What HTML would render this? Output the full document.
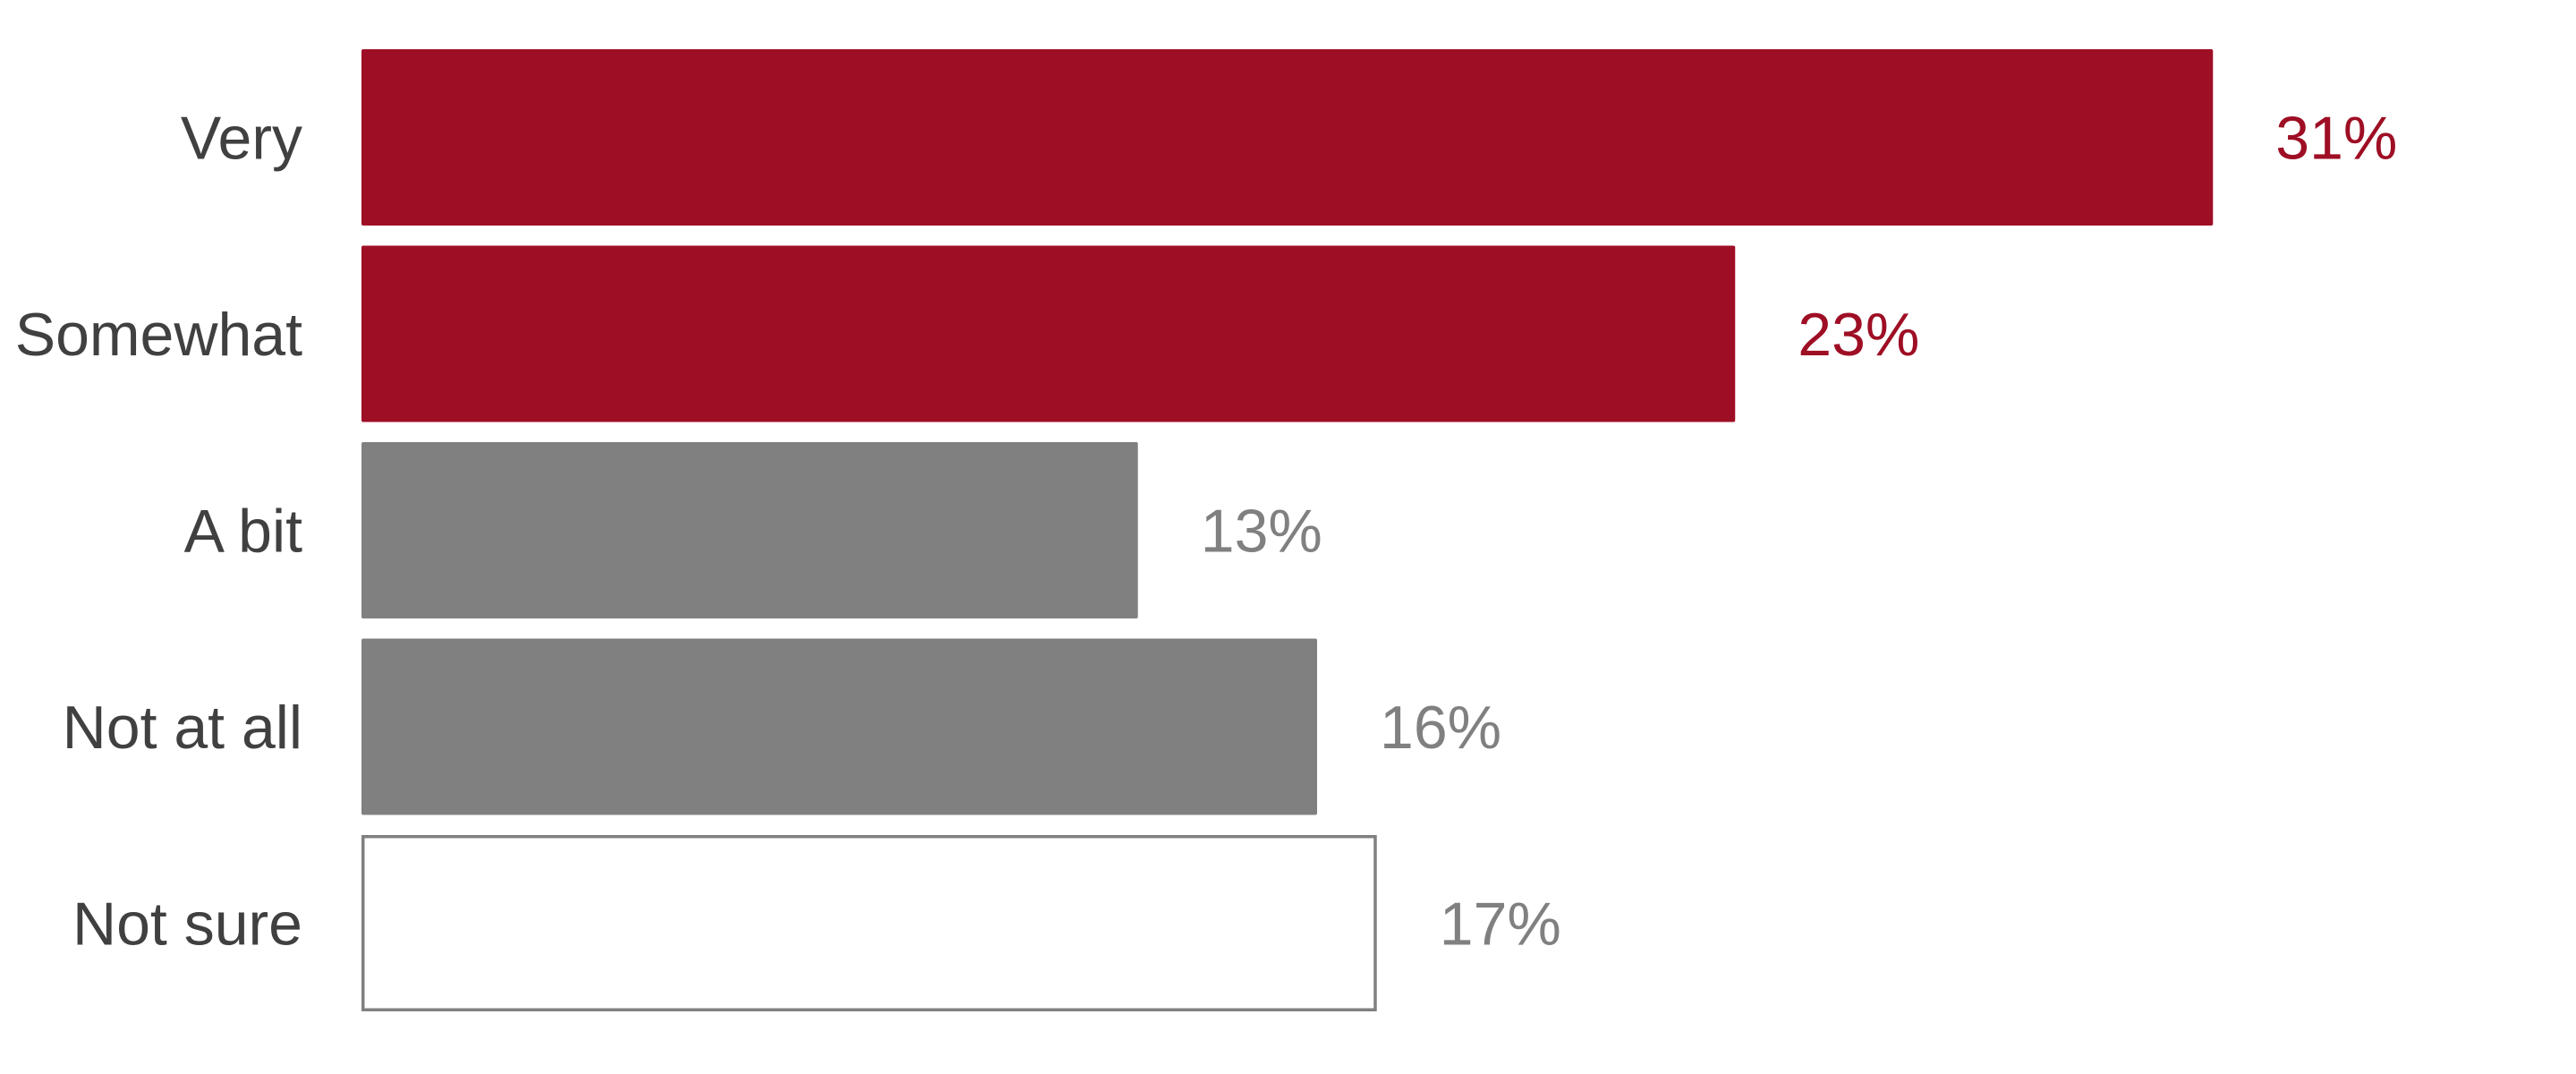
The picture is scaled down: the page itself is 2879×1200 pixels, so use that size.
<!DOCTYPE html>
<html><head><meta charset="utf-8"><style>
html,body{margin:0;padding:0;background:#fff;}
svg{display:block;}
text{font-family:"Liberation Sans",sans-serif;font-size:68px;}
</style></head><body>
<svg id="chart" width="2879" height="1200" viewBox="0 0 2879 1200" xmlns="http://www.w3.org/2000/svg"></svg>
<script>
const categories = ["Very","Somewhat","A bit","Not at all","Not sure"];
const values = [31,23,13,16,17];
const valueLabels = ["31%","23%","13%","16%","17%"];
const kinds = ["red","red","gray","gray","outline"];

const svg = document.getElementById('chart');
const NS = "http://www.w3.org/2000/svg";
const x0 = 404, pxPerPct = 66.75;
function xScale(v){ return v * pxPerPct; }
const top0 = 55, pitch = 219.5, barH = 197;
function yScale(i){ return top0 + i * pitch; }
const colors = {red:"#9E0E24", gray:"#808080", outline:"#ffffff"};
const labelColors = {red:"#9E0E24", gray:"#808080", outline:"#808080"};

categories.forEach((c,i)=>{
  const y = yScale(i);
  const w = xScale(values[i]);
  const r = document.createElementNS(NS,'rect');
  
  
  if(kinds[i]==='outline'){
    r.setAttribute('x', x0+1.75); r.setAttribute('y', y+1.75);
    r.setAttribute('width', w-3.5); r.setAttribute('height', barH-3.5);
    r.setAttribute('fill','#fff'); r.setAttribute('stroke','#808080'); r.setAttribute('stroke-width','3.5');
  } else {
    r.setAttribute('x', x0); r.setAttribute('y', y);
    r.setAttribute('width', w); r.setAttribute('height', barH);
    r.setAttribute('fill', colors[kinds[i]]); r.setAttribute('rx','2');
  }
  svg.appendChild(r);

  const t = document.createElementNS(NS,'text');
  
  
  t.setAttribute('x', 338); t.setAttribute('y', y + barH/2 + 24);
  t.setAttribute('text-anchor','end'); t.setAttribute('fill','#404040');
  t.textContent = c;
  svg.appendChild(t);

  const v = document.createElementNS(NS,'text');
  
  
  v.setAttribute('x', x0 + w + 70); v.setAttribute('y', y + barH/2 + 24);
  v.setAttribute('fill', labelColors[kinds[i]]);
  v.textContent = valueLabels[i];
  svg.appendChild(v);
});
</script>
</body></html>
